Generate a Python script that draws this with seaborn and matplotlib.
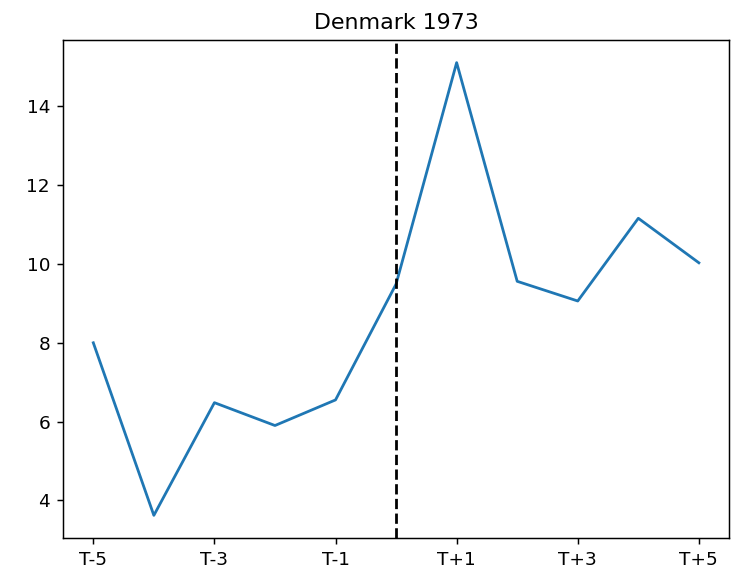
import pandas as pd
import matplotlib
matplotlib.use("Agg")
import matplotlib.pyplot as plt
import seaborn as sns

# periodos relativos al evento (T = 0)
periods = [-5, -4, -3, -2, -1, 0, 1, 2, 3, 4, 5]
values = [8.0, 3.62, 6.48, 5.90, 6.55, 9.49, 15.11, 9.56, 9.06, 11.16, 10.03]
tick_pos = [-5, -3, -1, 1, 3, 5]
tick_labels = ['T-5', 'T-3', 'T-1', 'T+1', 'T+3', 'T+5']

df = pd.DataFrame({'period': periods, 'value': values})

DPI = 133
fig, ax = plt.subplots(figsize=(738 / DPI, 569 / DPI), dpi=DPI)
sns.lineplot(data=df, x='period', y='value', ax=ax, color='#1f77b4')
ax.axvline(0, color='black', linestyle='--')
ax.set_xticks(tick_pos)
ax.set_xticklabels(tick_labels)
ax.set_xlabel('')
ax.set_ylabel('')
ax.set_title('Denmark 1973')
fig.subplots_adjust(left=0.0854, right=0.988, top=0.9297, bottom=0.0545)
fig.savefig('out.png', dpi=DPI)
